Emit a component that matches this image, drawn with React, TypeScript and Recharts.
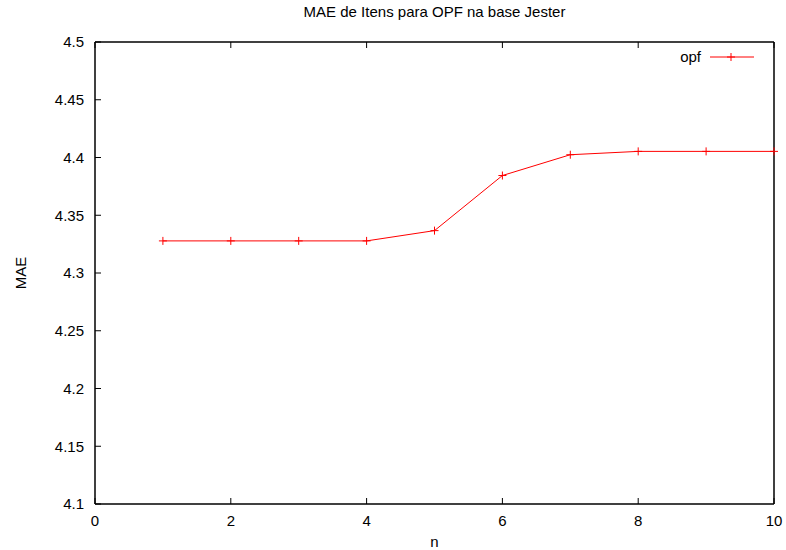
import React from 'react';
import {
  LineChart,
  Line,
  XAxis,
  YAxis,
  Legend,
  Label,
} from 'recharts';

// n values and MAE
const nValues = [1, 2, 3, 4, 5, 6, 7, 8, 9, 10];
const maeValues = [4.3278, 4.3278, 4.3278, 4.3278, 4.3367, 4.3844, 4.4024, 4.4053, 4.4053, 4.4053];
const xTicks = [0, 2, 4, 6, 8, 10];
const yTicks = [4.1, 4.15, 4.2, 4.25, 4.3, 4.35, 4.4, 4.45, 4.5];

const data = nValues.map((n, i) => ({ n, opf: maeValues[i] }));

const FONT = '"Liberation Sans", Arial, Helvetica, sans-serif';
const RED = '#ff0000';
const AXIS = '#000000';

const PlusDot = (props: any) => {
  const { cx, cy } = props;
  if (cx == null || cy == null) return null;
  return (
    <path
      d={`M${cx - 4},${cy}H${cx + 4}M${cx},${cy - 4}V${cy + 4}`}
      stroke={RED}
      strokeWidth={1}
      fill="none"
    />
  );
};

const LegendBox = () => (
  <svg width={100} height={16} style={{ display: 'block' }}>
    <text x={31} y={13} textAnchor="end" fontFamily={FONT} fontSize={15} fill="#000">
      opf
    </text>
    <line x1={40} y1={8} x2={84} y2={8} stroke={RED} strokeWidth={1} />
    <path d="M57,8H65M61,4V12" stroke={RED} strokeWidth={1} />
  </svg>
);

const tickStyle = { fontFamily: FONT, fontSize: 15, fill: '#000' };

const App: React.FC = () => {
  return (
    <div style={{ position: 'absolute', left: 0, top: 0, width: 786, height: 550, background: '#fff' }}>
      <LineChart width={786} height={550} data={data} margin={{ top: 0, right: 0, bottom: 0, left: 0 }}>
        <XAxis
          dataKey="n"
          type="number"
          domain={[0, 10]}
          ticks={xTicks}
          height={46}
          tickSize={-6}
          tickMargin={17}
          tick={tickStyle}
          stroke={AXIS}
          axisLine={{ stroke: AXIS, strokeWidth: 1.5 }}
          tickLine={{ stroke: AXIS }}
        >
          <Label value="n" position="insideBottom" offset={3} style={{ fontFamily: FONT, fontSize: 15, fill: '#000' }} />
        </XAxis>
        <XAxis
          xAxisId="top"
          orientation="top"
          dataKey="n"
          type="number"
          domain={[0, 10]}
          ticks={xTicks}
          height={42}
          tickSize={-6}
          tick={() => <g />}
          stroke={AXIS}
          axisLine={{ stroke: AXIS, strokeWidth: 1.5 }}
          tickLine={{ stroke: AXIS }}
        >
          <Label
            value="MAE de Itens para OPF na base Jester"
            position="insideTop"
            offset={6}
            style={{ fontFamily: FONT, fontSize: 15, fill: '#000' }}
          />
        </XAxis>
        <YAxis
          type="number"
          domain={[4.1, 4.5]}
          ticks={yTicks}
          width={95}
          tickSize={-6}
          tickMargin={17}
          tick={tickStyle}
          stroke={AXIS}
          axisLine={{ stroke: AXIS, strokeWidth: 1.5 }}
          tickLine={{ stroke: AXIS }}
          allowDataOverflow
        >
          <Label
            value="MAE"
            angle={-90}
            position="insideLeft"
            offset={21}
            style={{ fontFamily: FONT, fontSize: 15, fill: '#000', textAnchor: 'middle' }}
          />
        </YAxis>
        <YAxis
          yAxisId="right"
          orientation="right"
          type="number"
          domain={[4.1, 4.5]}
          ticks={yTicks}
          width={12}
          tickSize={-6}
          tick={() => <g />}
          stroke={AXIS}
          axisLine={{ stroke: AXIS, strokeWidth: 1.5 }}
          tickLine={{ stroke: AXIS }}
        />
        <Legend
          layout="horizontal"
          verticalAlign="middle"
          align="center"
          content={<LegendBox />}
          wrapperStyle={{ position: 'absolute', top: 49, left: 670, width: 100, height: 16 }}
        />
        <Line
          type="linear"
          dataKey="opf"
          name="opf"
          stroke={RED}
          strokeWidth={1}
          dot={<PlusDot />}
          activeDot={false}
          isAnimationActive={false}
        />
      </LineChart>
    </div>
  );
};

export default App;
